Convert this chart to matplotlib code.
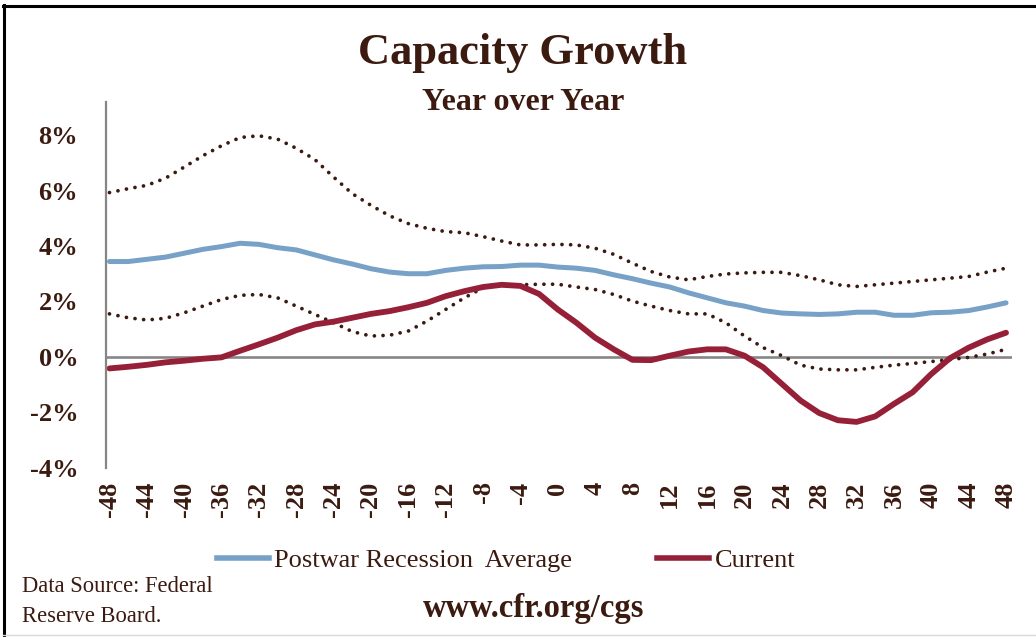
import numpy as np
import matplotlib
matplotlib.use("Agg")
from matplotlib import pyplot as plt
from matplotlib.lines import Line2D

# months relative to recession start
months = list(range(-48, 49, 2))

postwar_avg = [3.44, 3.44, 3.52, 3.60, 3.74, 3.88, 3.98, 4.10, 4.06, 3.94,
               3.86, 3.68, 3.50, 3.35, 3.18, 3.06, 3.00, 3.00, 3.12, 3.20,
               3.25, 3.26, 3.31, 3.31, 3.24, 3.20, 3.12, 2.96, 2.82, 2.66,
               2.52, 2.31, 2.13, 1.95, 1.83, 1.67, 1.58, 1.55, 1.53, 1.55,
               1.61, 1.61, 1.50, 1.50, 1.59, 1.61, 1.67, 1.80, 1.95]

current = [-0.42, -0.36, -0.29, -0.20, -0.14, -0.07, -0.02, 0.22, 0.45, 0.69,
           0.96, 1.17, 1.27, 1.41, 1.55, 1.65, 1.79, 1.95, 2.19, 2.37,
           2.52, 2.60, 2.56, 2.27, 1.71, 1.23, 0.69, 0.27, -0.11, -0.12,
           0.04, 0.19, 0.27, 0.27, 0.04, -0.38, -0.98, -1.58, -2.03, -2.29,
           -2.35, -2.15, -1.70, -1.28, -0.62, -0.05, 0.33, 0.63, 0.87]

upper_band = [5.93, 6.07, 6.19, 6.45, 6.85, 7.26, 7.62, 7.92, 7.98, 7.86,
              7.53, 7.12, 6.49, 5.89, 5.47, 5.09, 4.81, 4.64, 4.52, 4.48,
              4.34, 4.18, 4.04, 4.04, 4.06, 4.04, 3.92, 3.70, 3.38, 3.08,
              2.88, 2.78, 2.90, 2.99, 3.03, 3.05, 3.05, 2.93, 2.78, 2.60,
              2.54, 2.60, 2.66, 2.72, 2.78, 2.84, 2.90, 3.06, 3.20]

lower_band = [1.55, 1.41, 1.33, 1.39, 1.59, 1.83, 2.07, 2.22, 2.25, 2.13,
              1.83, 1.53, 1.23, 0.91, 0.75, 0.78, 0.93, 1.29, 1.71, 2.13,
              2.49, 2.60, 2.60, 2.62, 2.62, 2.52, 2.43, 2.25, 2.01, 1.83,
              1.67, 1.55, 1.55, 1.23, 0.75, 0.33, 0.04, -0.30, -0.44, -0.47,
              -0.47, -0.38, -0.30, -0.24, -0.17, -0.10, -0.02, 0.10, 0.27]

xticks = list(range(-48, 49, 4))
yticks = [-4, -2, 0, 2, 4, 6, 8]

brown = "#3b1a10"
blue = "#77a1c6"
red = "#962037"
gray = "#868686"
W, H = 1036, 637

plt.rcParams['font.family'] = ['Liberation Serif', 'DejaVu Serif']

fig = plt.figure(figsize=(W / 100, H / 100), dpi=100)
ax = fig.add_axes([106 / W, 1 - 467.6 / H, 906 / W, 365.6 / H])

dots = dict(color=brown, lw=2.7, linestyle=(0, (0.01, 2.3)), dash_capstyle='round')
ax.plot(months, upper_band, **dots)
ax.plot(months, lower_band, **dots)
ax.plot(months, postwar_avg, color=blue, lw=3.6, solid_capstyle='round', solid_joinstyle='round')
ax.plot(months, current, color=red, lw=4.2, solid_capstyle='round', solid_joinstyle='round')
ax.axhline(0, color=gray, lw=1.9, zorder=1)

ax.set_xlim(-48.37, 48.64)
ax.set_ylim(-4, 9.2)
for s in ['top', 'right', 'bottom']:
    ax.spines[s].set_visible(False)
ax.spines['left'].set_color(gray)
ax.spines['left'].set_linewidth(1.6)

ax.set_xticks(xticks)
ax.set_xticklabels([str(t) for t in xticks], rotation=90, fontsize=19,
                   fontweight='bold', color=brown)
ax.set_yticks(yticks)
ax.set_yticklabels([f"{t}%" for t in yticks], fontsize=19,
                   fontweight='bold', color=brown)
ax.tick_params(axis='x', length=0, pad=10)
ax.tick_params(axis='y', length=0, pad=20)

fig.text(523 / W, 1 - 53 / H, "Capacity Growth", ha='center', va='center',
         fontsize=32, fontweight='bold', color=brown)
fig.text(523 / W, 1 - 103 / H, "Year over Year", ha='center', va='center',
         fontsize=23, fontweight='bold', color=brown)

handles = [Line2D([], [], color=blue, lw=4.0), Line2D([], [], color=red, lw=4.0)]
fig.legend(handles, ["Postwar Recession  Average", "Current"], loc='center',
           bbox_to_anchor=(506 / W, 1 - 560 / H), ncol=2, frameon=False,
           handlelength=1.97, handletextpad=0.22, columnspacing=3.2,
           prop={'size': 19}, labelcolor=brown)

fig.text(22 / W, 1 - 587 / H, "Data Source: Federal", ha='left', va='center',
         fontsize=16.3, color=brown)
fig.text(22 / W, 1 - 617 / H, "Reserve Board.", ha='left', va='center',
         fontsize=16.3, color=brown)
fig.text(534 / W, 1 - 608 / H, "www.cfr.org/cgs", ha='center', va='center',
         fontsize=23.5, fontweight='bold', color=brown)

# chart frame
fig.add_artist(Line2D([3 / W, 1], [1 - 5.5 / H, 1 - 5.5 / H], color='black', lw=2.2))
fig.add_artist(Line2D([3.5 / W, 3.5 / W], [0, 1 - 5 / H], color='black', lw=2.2))
fig.add_artist(Line2D([3 / W, 1], [1 - 635 / H, 1 - 635 / H], color='#d9d9d9', lw=1.0))

fig.savefig("out.png", dpi=100)
